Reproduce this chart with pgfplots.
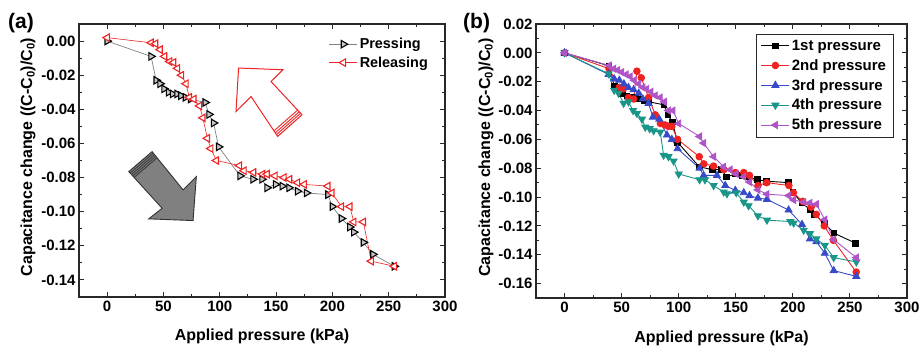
\documentclass[border=0pt]{standalone}
\usepackage{fontspec}
\setmainfont{Liberation Sans}
\usepackage{pgfplots}
\usepackage{pgfplotstable}
\pgfplotsset{compat=1.18}
\usetikzlibrary{calc}

\definecolor{cred}{RGB}{240,35,35}
\definecolor{cblue}{RGB}{55,75,200}
\definecolor{cteal}{RGB}{25,150,135}
\definecolor{cpurp}{RGB}{175,85,200}
\definecolor{axgray}{RGB}{40,40,40}

\pgfplotstableread{
x y
0 0
39 -0.009
43.5 -0.023
47 -0.025
50.5 -0.028
54.5 -0.030
58 -0.031
62 -0.031
65.5 -0.032
69.5 -0.033
74 -0.034
87 -0.036
90.5 -0.043
94.5 -0.048
99 -0.062
118 -0.079
129.5 -0.081
137.5 -0.081
142 -0.086
149.5 -0.084
155.5 -0.085
161.5 -0.086
169 -0.088
177 -0.089
196 -0.090
200 -0.097
208 -0.104
215.5 -0.109
219 -0.112
227.5 -0.118
236 -0.125
255 -0.132
}\pressing

\pgfplotstableread{
x y
0 0.002
39 -0.001
43 -0.0015
47 -0.005
51 -0.009
55.5 -0.012
59 -0.0125
62.5 -0.016
66 -0.020
70 -0.025
73 -0.033
77 -0.034
82 -0.038
85 -0.045
89 -0.057
92 -0.063
97 -0.070
117.5 -0.073
121.5 -0.076
130 -0.077
138 -0.078
142 -0.078
149 -0.079
157 -0.080
162 -0.081
169 -0.083
175 -0.084
196 -0.085
199.5 -0.089
208 -0.097
215.5 -0.097
219 -0.106
227.5 -0.106
234.5 -0.129
255 -0.132
}\releasing

\pgfplotstableread{
x y
0 0
39 -0.011
48 -0.024
51.5 -0.025
56 -0.031
60.5 -0.032
63.4 -0.0127
67.2 -0.0173
73.6 -0.031
79.5 -0.043
84 -0.049
88 -0.050
91 -0.051
94 -0.051
99 -0.060
118 -0.072
122 -0.077
130.5 -0.0785
139.5 -0.081
149.5 -0.083
157 -0.083
162 -0.085
169.5 -0.092
177 -0.090
196.5 -0.092
200.5 -0.097
208.5 -0.103
216 -0.107
220.5 -0.112
227.5 -0.120
235.5 -0.130
255.5 -0.152
}\secondp

\pgfplotstableread{
x y
0 0
38.6 -0.015
43.5 -0.018
48 -0.019
52 -0.0215
56 -0.024
60.5 -0.0256
65 -0.028
68.6 -0.032
73.6 -0.035
77.4 -0.0446
83 -0.046
89.7 -0.057
94 -0.060
99 -0.0665
118.3 -0.080
121.8 -0.085
133.5 -0.085
140.8 -0.092
149.6 -0.0954
157 -0.097
162 -0.099
169.4 -0.1007
177.3 -0.1016
196.3 -0.109
208 -0.119
215 -0.129
220.6 -0.131
228 -0.139
235.8 -0.151
255.6 -0.155
}\thirdp

\pgfplotstableread{
x y
0 0
38.6 -0.0145
43.5 -0.026
47.3 -0.028
51.7 -0.035
56 -0.034
60 -0.040
63.4 -0.042
67.8 -0.046
70.7 -0.0515
74.5 -0.0526
78 -0.054
83.8 -0.055
86.8 -0.071
91 -0.072
95.5 -0.075
100 -0.084
118.3 -0.088
123 -0.088
130.6 -0.092
139.4 -0.0965
142.3 -0.0977
150.4 -0.097
157 -0.1035
161.2 -0.106
169.4 -0.113
177.3 -0.116
197.8 -0.117
200.7 -0.118
209.5 -0.123
215 -0.1254
220.6 -0.129
228 -0.1335
235.8 -0.142
255.6 -0.145
}\fourthp

\pgfplotstableread{
x y
0 0
39 -0.0088
43 -0.011
46.5 -0.012
50 -0.0134
54 -0.015
57.5 -0.0164
61 -0.019
65 -0.0215
68.6 -0.024
72 -0.025
75.7 -0.027
79.5 -0.0296
83.8 -0.031
87.4 -0.034
91 -0.040
95 -0.040
100 -0.049
118.3 -0.058
121.8 -0.0626
130.6 -0.072
139.4 -0.079
145 -0.081
150.4 -0.084
157 -0.086
162 -0.0896
169.4 -0.095
177.3 -0.098
196.3 -0.099
200.7 -0.102
209.5 -0.1035
215 -0.104
220.6 -0.105
228 -0.1157
235.8 -0.1295
255.6 -0.142
}\fifthp

\pgfplotsset{
 myax/.style={
  scale only axis,
  xmin=-25, xmax=300,
  xtick={0,50,100,150,200,250,300},
  minor x tick num=1,
  minor y tick num=1,
  tick align=inside,
  tick pos=both,
  axis line style={line width=1.1pt, axgray},
  major tick length=5pt, minor tick length=3pt,
  every tick/.style={axgray, line width=0.9pt},
  tick label style={font=\bfseries\fontsize{15}{17}\selectfont},
  /pgf/number format/assume math mode=true,
  yticklabel style={/pgf/number format/.cd, fixed, fixed zerofill, precision=2},
  xlabel style={font=\bfseries\fontsize{16}{18}\selectfont},
  ylabel style={font=\bfseries\fontsize{16}{18}\selectfont},
  xlabel={Applied pressure (kPa)},
  ylabel={Capacitance change ((C-C\textsubscript{0})/C\textsubscript{0})},
  legend image code/.code={\draw[mark repeat=2,mark phase=2,##1] plot coordinates {(0pt,0pt)(14pt,0pt)(28pt,0pt)};},
 }
}

\begin{document}
\begin{tikzpicture}
\useasboundingbox (0,0) rectangle (921pt,346pt);

% ---------------- panel (a)
\begin{axis}[myax,
  at={(79pt,49pt)}, anchor=south west, width=366pt, height=273pt,
  ymin=-0.15, ymax=0.01,
  ytick={-0.14,-0.12,-0.10,-0.08,-0.06,-0.04,-0.02,0},
  xlabel style={at={(axis description cs:0.5,-0.161)}, anchor=base},
  ylabel style={at={(axis description cs:-0.128,0.513)}, anchor=base},
  legend style={draw=none, fill=none, at={(axis description cs:1,1)}, anchor=north east,
    xshift=-12pt, yshift=-10pt, font=\bfseries\fontsize{14.4}{16}\selectfont,
    row sep=2.5pt, legend cell align=left},
]
% decorative arrows
\draw[cred, line width=1pt, fill=white]
  (axis cs:116.7,-0.0158) -- (axis cs:156.1,-0.0168) -- (axis cs:145.5,-0.0237)
  -- (axis cs:173.0,-0.0432) -- (axis cs:151.4,-0.0559) -- (axis cs:127.8,-0.0325)
  -- (axis cs:114.4,-0.0413) -- cycle;
\coordinate (rn1) at (axis cs:145.5,-0.0237);
\coordinate (rt1) at (axis cs:173.0,-0.0432);
\coordinate (rn2) at (axis cs:127.8,-0.0325);
\coordinate (rt2) at (axis cs:151.4,-0.0559);
\draw[cred, line width=0.9pt] ($(rn1)!0.86!(rt1)$) -- ($(rn2)!0.86!(rt2)$);
\draw[cred, line width=0.9pt] ($(rn1)!0.91!(rt1)$) -- ($(rn2)!0.91!(rt2)$);
\draw[cred, line width=0.9pt] ($(rn1)!0.955!(rt1)$) -- ($(rn2)!0.955!(rt2)$);
\draw[black!80, line width=0.9pt, fill=black!50]
  (axis cs:39.9,-0.0648) -- (axis cs:67.4,-0.0872) -- (axis cs:79.2,-0.0794)
  -- (axis cs:76.3,-0.1052) -- (axis cs:36.9,-0.1042) -- (axis cs:48.8,-0.0980)
  -- (axis cs:19.2,-0.0765) -- cycle;
\coordinate (gt1) at (axis cs:39.9,-0.0648);
\coordinate (gn1) at (axis cs:67.4,-0.0872);
\coordinate (gt2) at (axis cs:19.2,-0.0765);
\coordinate (gn2) at (axis cs:48.8,-0.0980);
\draw[black!75, line width=1pt] ($(gt1)!0.04!(gn1)$) -- ($(gt2)!0.04!(gn2)$);
\draw[black!75, line width=1pt] ($(gt1)!0.08!(gn1)$) -- ($(gt2)!0.08!(gn2)$);
\draw[black!75, line width=1pt] ($(gt1)!0.12!(gn1)$) -- ($(gt2)!0.12!(gn2)$);
\draw[black!75, line width=1pt] ($(gt1)!0.16!(gn1)$) -- ($(gt2)!0.16!(gn2)$);
\addplot[gray, line width=0.7pt, mark=triangle*, mark size=4.3pt,
  mark options={rotate=-90, draw=black, fill=gray!45, line width=1.1pt}]
  table[x=x,y=y] {\pressing};
\addlegendentry{Pressing}
\addplot[cred, line width=0.6pt, mark=triangle*, mark size=4.3pt,
  mark options={rotate=90, draw=cred, fill=white, line width=1.1pt}]
  table[x=x,y=y] {\releasing};
\addlegendentry{Releasing}
\end{axis}

% ---------------- panel (b)
\begin{axis}[myax,
  at={(536pt,48pt)}, anchor=south west, width=371pt, height=274pt,
  ymin=-0.17, ymax=0.02,
  ytick={-0.16,-0.14,-0.12,-0.10,-0.08,-0.06,-0.04,-0.02,0,0.02},
  xlabel style={at={(axis description cs:0.5,-0.161)}, anchor=base},
  ylabel style={at={(axis description cs:-0.124,0.513)}, anchor=base},
  legend style={draw=axgray, line width=0.9pt, fill=white, at={(axis description cs:1,1)}, anchor=north east,
    xshift=-13.5pt, yshift=-9.5pt, font=\bfseries\fontsize{15}{17}\selectfont,
    row sep=3.5pt, legend cell align=left, inner xsep=5pt, inner ysep=4pt},
]
\addplot[black, line width=0.9pt, mark=square*, mark size=2.8pt, mark options={fill=black}]
  table[x=x,y=y] {\pressing};
\addlegendentry{1st pressure}
\addplot[cred, line width=0.9pt, mark=*, mark size=3.3pt, mark options={fill=cred}]
  table[x=x,y=y] {\secondp};
\addlegendentry{2nd pressure}
\addplot[cblue, line width=0.9pt, mark=triangle*, mark size=4pt, mark options={fill=cblue}]
  table[x=x,y=y] {\thirdp};
\addlegendentry{3rd pressure}
\addplot[cteal, line width=0.9pt, mark=triangle*, mark size=4pt, mark options={fill=cteal, rotate=180}]
  table[x=x,y=y] {\fourthp};
\addlegendentry{4th pressure}
\addplot[cpurp, line width=0.9pt, mark=triangle*, mark size=4pt, mark options={fill=cpurp, rotate=90}]
  table[x=x,y=y] {\fifthp};
\addlegendentry{5th pressure}
\end{axis}

\node[anchor=base west, inner sep=0pt, font=\bfseries\fontsize{21}{23}\selectfont] at (8pt,317pt) {(a)};
\node[anchor=base west, inner sep=0pt, font=\bfseries\fontsize{21}{23}\selectfont] at (463pt,317pt) {(b)};
\end{tikzpicture}
\end{document}
